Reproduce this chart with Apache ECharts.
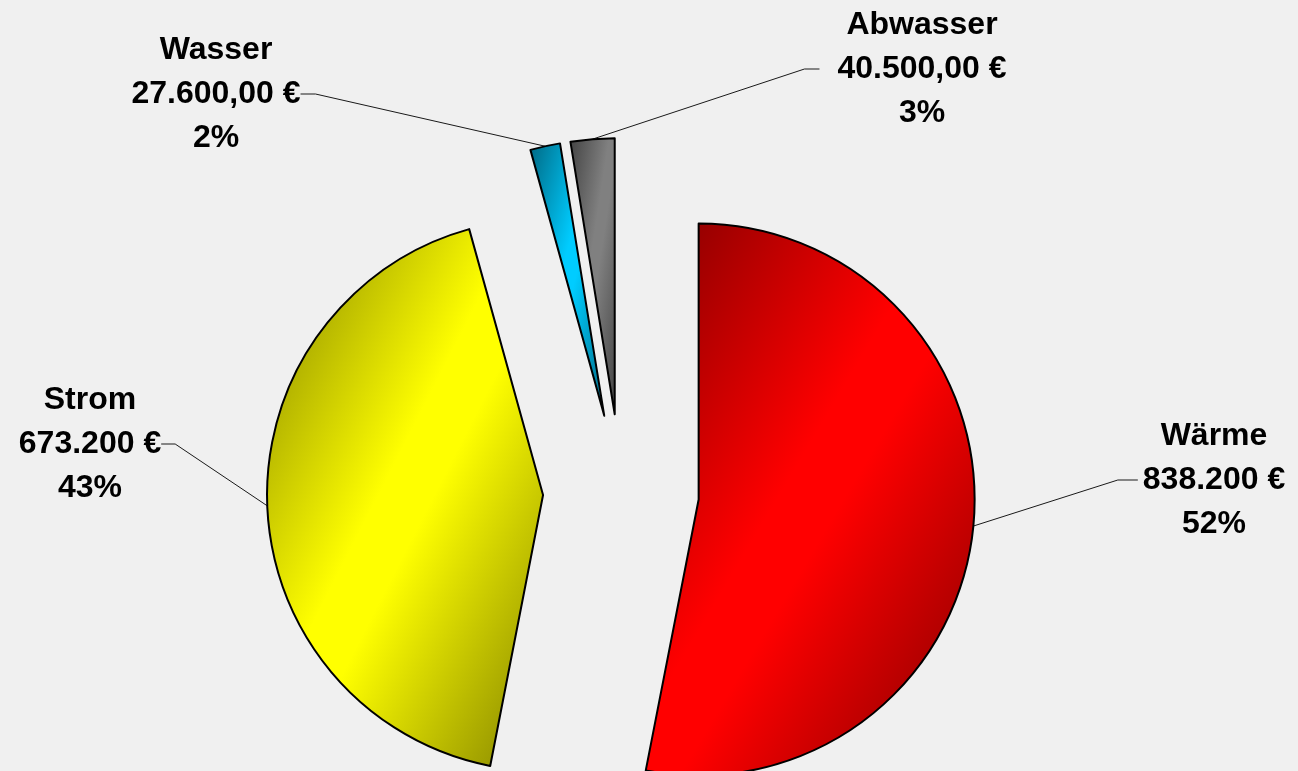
<!DOCTYPE html>
<html>
<head>
<meta charset="utf-8">
<title>Kostenverteilung</title>
<script src="https://cdn.jsdelivr.net/npm/echarts@6/dist/echarts.min.js"></script>
<style>
    html, body { margin: 0; padding: 0; background: #f0f0f0; }
    #main { width: 1298px; height: 771px; }
</style>
</head>
<body>
<div id="main"></div>
<script>
// data
var names = ["Wärme", "Strom", "Wasser", "Abwasser"];
var values = [838200, 673200, 27600, 40500];
var valueTexts = ["838.200 €", "673.200 €", "27.600,00 €", "40.500,00 €"];
var percentTexts = ["52%", "43%", "2%", "3%"];

// styles
var darkColors = ["#800000", "#808000", "#006680", "#404040"];
var lightColors = ["#ff0000", "#ffff00", "#00ccff", "#808080"];

// label placement: text centre x, middle line y, side (1 = text right of line)
var labelPos = [[1214, 480, 1], [90, 444, -1], [216, 94, -1], [922, 69, 1]];
var elbowLen = [20, 14, 15, 15];
var labelGap = [5, 0, 0, 18];

var cx = 621, cy = 492, R = 276, explode = 78;

var total = values.reduce(function (a, b) { return a + b; }, 0);
var startAngles = [], endAngles = [];
var acc = 0;
values.forEach(function (v) {
    startAngles.push(acc / total * 360);
    acc += v;
    endAngles.push(acc / total * 360);
});

// gradient that follows the slice's box diagonal (dark - light - dark)
function sliceGradient(i) {
    var a0 = startAngles[i], a1 = endAngles[i];
    var xs = [0], ys = [0];
    function add(a) {
        var r = a * Math.PI / 180;
        xs.push(Math.sin(r));
        ys.push(-Math.cos(r));
    }
    add(a0);
    add(a1);
    [90, 180, 270].forEach(function (q) { if (q > a0 && q < a1) add(q); });
    var w = Math.max.apply(null, xs) - Math.min.apply(null, xs);
    var h = Math.max.apply(null, ys) - Math.min.apply(null, ys);
    var l2 = w * w + h * h;
    return {
        type: 'linear',
        x: 0.5 - h * h / l2, y: 0.5 - w * w / l2,
        x2: 0.5 + h * h / l2, y2: 0.5 + w * w / l2,
        colorStops: [
            { offset: 0, color: darkColors[i] },
            { offset: 0.45, color: lightColors[i] },
            { offset: 0.55, color: lightColors[i] },
            { offset: 1, color: darkColors[i] }
        ]
    };
}

function makeSeries(i) {
    var mid = (startAngles[i] + endAngles[i]) / 2 * Math.PI / 180;
    return {
        type: 'pie',
        silent: true,
        radius: R,
        center: [cx + explode * Math.sin(mid), cy - explode * Math.cos(mid)],
        startAngle: 90,
        clockwise: true,
        avoidLabelOverlap: false,
        label: { show: false },
        labelLine: { show: false },
        emphasis: { disabled: true },
        data: names.map(function (n, j) {
            if (j !== i) {
                return {
                    name: n,
                    value: values[j],
                    itemStyle: { color: 'rgba(0,0,0,0)', borderWidth: 0 }
                };
            }
            return {
                name: n,
                value: values[j],
                itemStyle: {
                    color: sliceGradient(j),
                    borderColor: '#000000',
                    borderWidth: 2
                },
                label: {
                    show: true,
                    position: 'outside',
                    formatter: n + '\n' + valueTexts[j] + '\n' + percentTexts[j],
                    color: '#000000',
                    fontFamily: 'Liberation Sans, Arial, sans-serif',
                    fontWeight: 'bold',
                    fontSize: 32,
                    lineHeight: 44
                },
                labelLine: {
                    show: true,
                    length: 20,
                    length2: 20,
                    lineStyle: { color: '#1a1a1a', width: 1 }
                }
            };
        }),
        labelLayout: function (params) {
            if (params.dataIndex !== i || !params.labelLinePoints) return {};
            var p = labelPos[i];
            var half = params.labelRect.width / 2;
            var endX = p[2] > 0 ? p[0] - half - labelGap[i] : p[0] + half + labelGap[i];
            var elbowX = endX - p[2] * elbowLen[i];
            return {
                x: p[0],
                y: p[1],
                align: 'center',
                verticalAlign: 'middle',
                labelLinePoints: [params.labelLinePoints[0], [elbowX, p[1]], [endX, p[1]]]
            };
        }
    };
}

var myChart = echarts.init(document.getElementById("main"));
var option = {
    backgroundColor: '#f0f0f0',
    animation: false,
    series: names.map(function (n, i) { return makeSeries(i); })
};
myChart.setOption(option);
window.addEventListener("resize", function () {
    myChart.resize();
});
</script>
</body>
</html>
